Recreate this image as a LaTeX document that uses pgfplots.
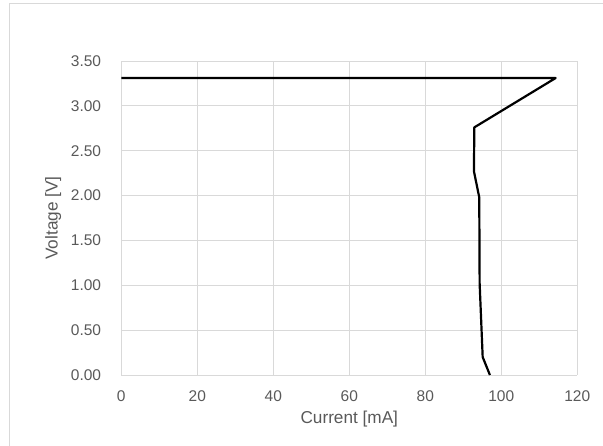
\documentclass[border=0pt]{standalone}
\usepackage{pgfplots}
\pgfplotsset{compat=1.18}
\usepackage{fontspec}
\setmainfont{Liberation Sans}
\definecolor{txt}{HTML}{595959}
\definecolor{grd}{HTML}{D9D9D9}
\definecolor{brd}{HTML}{D9D9D9}
\begin{document}
\begin{tikzpicture}[x=1pt,y=1pt]
\useasboundingbox (-121.3,-71) rectangle (481.7,375);
\draw[brd, line width=1.2pt] (-111.8,-80) -- (-111.8,371.5) -- (490,371.5);
\begin{axis}[
  at={(0,0)}, anchor=south west,
  scale only axis, width=456pt, height=314pt,
  xmin=0, xmax=120, ymin=0, ymax=3.5,
  xtick={0,20,...,120}, ytick={0,0.5,...,3.5},
  grid=major, major grid style={grd, line width=0.8pt},
  axis line style={grd, line width=0.8pt},
  axis x line*=bottom, axis y line*=left,
  x axis line style={-}, y axis line style={-},
  tick style={draw=none},
  ticklabel style={font=\fontsize{15.5}{18}\selectfont, text=txt, inner sep=0pt},
  /pgf/number format/assume math mode=true,
  yticklabel={\pgfmathprintnumber[fixed,fixed zerofill,precision=2]{\tick}},
  xticklabel style={anchor=center, yshift=-21pt},
  yticklabel style={anchor=east, xshift=-20pt},
  xlabel={Current [mA]}, ylabel={Voltage [V]},
  label style={font=\fontsize{17.2}{20}\selectfont, text=txt, inner sep=0pt},
  xlabel style={at={(axis description cs:0.5,0)}, anchor=center, yshift=-44pt},
  ylabel style={at={(axis description cs:0,0.5)}, anchor=center, yshift=68pt},
  clip=false,
]
\addplot[black, line width=2.2pt, line join=round] coordinates {
(0,3.31) (114.3,3.31) (92.9,2.76) (92.8,2.27) (94.2,1.98) (94.3,1.02) (95.1,0.20) (97.0,0)
};
\end{axis}
\end{tikzpicture}
\end{document}
